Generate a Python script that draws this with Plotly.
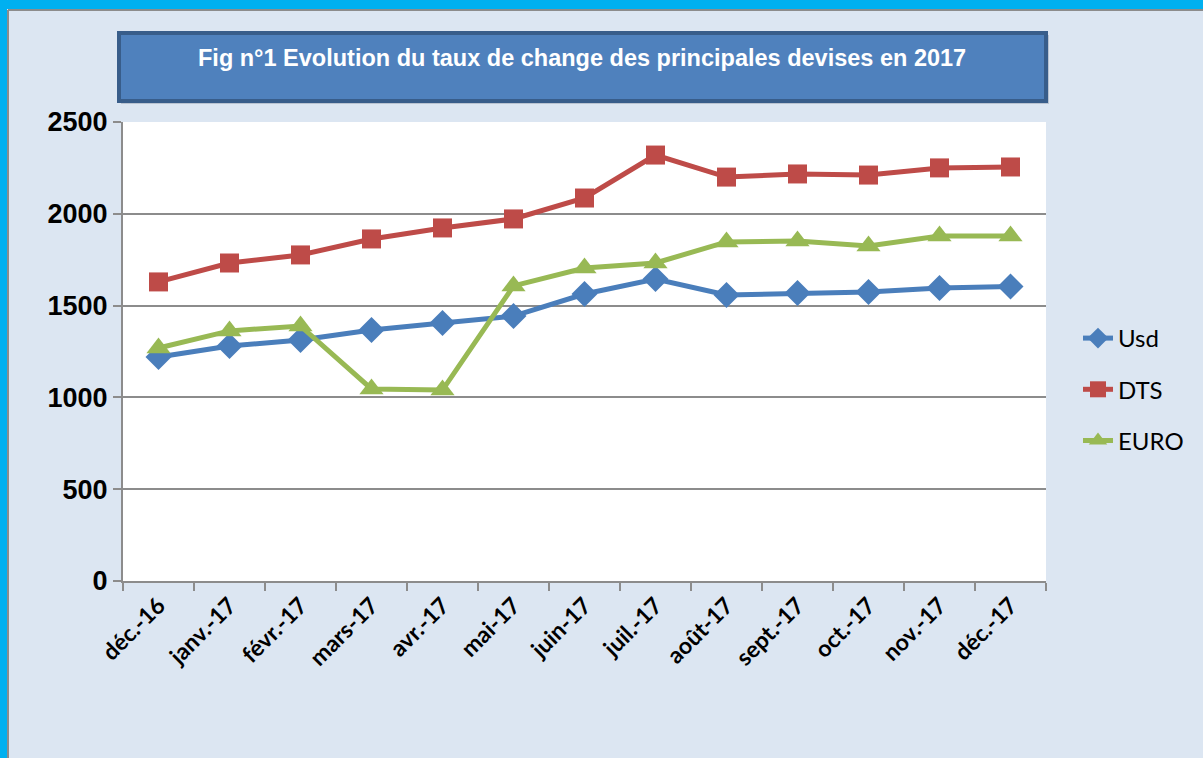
import plotly.graph_objects as go

months = ["déc.-16", "janv.-17", "févr.-17", "mars-17", "avr.-17", "mai-17", "juin-17",
          "juil.-17", "août-17", "sept.-17", "oct.-17", "nov.-17", "déc.-17"]
usd = [1220, 1280, 1313, 1367, 1405, 1443, 1563, 1645, 1558, 1569, 1574, 1596, 1604]
dts = [1629, 1732, 1776, 1863, 1923, 1972, 2086, 2320, 2200, 2217, 2211, 2250, 2255]
euro = [1269, 1362, 1389, 1046, 1040, 1607, 1705, 1732, 1847, 1852, 1825, 1879, 1879]
y_ticks = [0, 500, 1000, 1500, 2000, 2500]
title_text = "Fig n°1 Evolution du taux de change des principales devises en 2017"

W, H = 1203, 758
L, R, T, B = 123, 1046, 122, 581


def px(x):
    return (x - L) / (R - L)


def py(y):
    return (B - y) / (B - T)


fig = go.Figure()
fig.add_trace(go.Scatter(x=months, y=usd, name="Usd", mode="lines+markers", legendgroup="a",
                         line=dict(color="#4A7EBB", width=5),
                         marker=dict(symbol="diamond", size=20, color="#4A7EBB")))
fig.add_trace(go.Scatter(x=months, y=dts, name="DTS", mode="lines+markers", legendgroup="b",
                         line=dict(color="#BE4B48", width=5),
                         marker=dict(symbol="square", size=19, color="#BE4B48")))
fig.add_trace(go.Scatter(x=months, y=euro, name="EURO", mode="lines+markers", legendgroup="c",
                         line=dict(color="#98B954", width=5),
                         marker=dict(symbol="triangle-up", size=21, color="#98B954")))

shapes = [
    # cyan frame top and left
    dict(type="rect", xref="paper", yref="paper", x0=px(0), x1=px(W), y0=py(0), y1=py(9),
         fillcolor="#00B0F0", line=dict(width=0), layer="below"),
    dict(type="rect", xref="paper", yref="paper", x0=px(0), x1=px(7), y0=py(0), y1=py(H),
         fillcolor="#00B0F0", line=dict(width=0), layer="below"),
    dict(type="line", xref="paper", yref="paper", x0=px(8), x1=px(W), y0=py(10), y1=py(10),
         line=dict(color="#8C8C8C", width=2), layer="below"),
    dict(type="line", xref="paper", yref="paper", x0=px(8), x1=px(8), y0=py(10), y1=py(H),
         line=dict(color="#8C8C8C", width=2), layer="below"),
    # title box shadow
    dict(type="rect", xref="paper", yref="paper", x0=px(121), x1=px(1049), y0=py(35), y1=py(104),
         fillcolor="rgba(120,130,150,0.35)", line=dict(width=0)),
    # title box
    dict(type="rect", xref="paper", yref="paper", x0=px(119), x1=px(1046), y0=py(33), y1=py(101),
         fillcolor="#4F81BD", line=dict(color="#385D8A", width=4)),
]

fig.update_layout(
    width=W, height=H,
    margin=dict(l=L, r=W - R, t=T, b=H - B),
    paper_bgcolor="#DCE6F2",
    plot_bgcolor="#FFFFFF",
    showlegend=True,
    legend=dict(x=px(1078), y=py(316), xanchor="left", yanchor="top",
                font=dict(family="Lato, Carlito, sans-serif", size=24, color="#000000"),
                bgcolor="rgba(0,0,0,0)", borderwidth=0, tracegroupgap=17, itemwidth=30),
    shapes=shapes,
    annotations=[dict(text=title_text, xref="paper", yref="paper", x=px(582), y=py(58),
                      xanchor="center", yanchor="middle", showarrow=False,
                      font=dict(family="Liberation Sans, Arial, sans-serif", size=23.5,
                                color="#FFFFFF", weight="bold"))],
    xaxis=dict(type="category", range=[-0.5, len(months) - 0.5], tickson="boundaries",
               ticks="outside", ticklen=8,
               tickcolor="#8C8C8C", tickwidth=2, showline=True, linecolor="#8C8C8C",
               linewidth=2, showgrid=False, tickangle=-45,
               tickfont=dict(family="Lato, Carlito, sans-serif", size=23, color="#000000",
                             weight="bold")),
    yaxis=dict(range=[0, 2500], tickvals=y_ticks, ticks="outside", ticklen=8,
               tickcolor="#8C8C8C", tickwidth=2, showline=True, linecolor="#8C8C8C",
               linewidth=2, showgrid=True, gridcolor="#8C8C8C", gridwidth=2,
               zeroline=False,
               tickfont=dict(family="Liberation Sans, Arial, sans-serif", size=27,
                             color="#000000", weight="bold")),
)

fig.write_html("out.html", config={"displayModeBar": False},
               post_script="document.body.style.margin='0px';document.body.style.overflow='hidden';")
